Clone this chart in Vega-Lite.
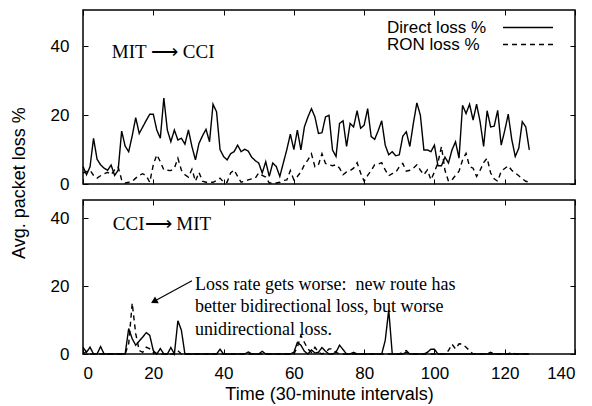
{
"$schema": "https://vega.github.io/schema/vega-lite/v6.json",
"padding": {"left": 9, "top": 8, "right": 0, "bottom": 0},
"bounds": "flush",
"spacing": 16,
"datasets": {
"mit_cci": [
{"t":0,"direct":5.1,"ron":3.2},{"t":1,"direct":2.7,"ron":3.6},{"t":2,"direct":5,"ron":4},{"t":3,"direct":13.3,"ron":2.5},{"t":4,"direct":7.2,"ron":1.7},{"t":5,"direct":5.6,"ron":2.4},{"t":6,"direct":4.6,"ron":3},{"t":7,"direct":4,"ron":3.4},{"t":8,"direct":5.5,"ron":2.7},{"t":9,"direct":2.5,"ron":4.1},
{"t":10,"direct":4,"ron":5},{"t":11,"direct":15.4,"ron":1.2},{"t":12,"direct":11,"ron":0.3},{"t":13,"direct":9.4,"ron":0.5},{"t":14,"direct":14,"ron":0.8},{"t":15,"direct":19.3,"ron":1.7},{"t":16,"direct":14.7,"ron":2.5},{"t":17,"direct":16.6,"ron":3},{"t":18,"direct":18.5,"ron":2.4},{"t":19,"direct":20.3,"ron":0.5},
{"t":20,"direct":20.3,"ron":5.6},{"t":21,"direct":15.7,"ron":8.5},{"t":22,"direct":13.3,"ron":6.5},{"t":23,"direct":25,"ron":4.1},{"t":24,"direct":15.7,"ron":4},{"t":25,"direct":12.3,"ron":3.9},{"t":26,"direct":15.7,"ron":4.6},{"t":27,"direct":12.8,"ron":7.5},{"t":28,"direct":13.3,"ron":4},{"t":29,"direct":11.6,"ron":2.7},
{"t":30,"direct":15.7,"ron":2},{"t":31,"direct":10.9,"ron":4.3},{"t":32,"direct":7,"ron":0.8},{"t":33,"direct":11.8,"ron":3.4},{"t":34,"direct":14,"ron":0.8},{"t":35,"direct":15.9,"ron":0.5},{"t":36,"direct":12.3,"ron":0.5},{"t":37,"direct":23.2,"ron":0.5},{"t":38,"direct":21,"ron":1},{"t":39,"direct":10,"ron":1.7},
{"t":40,"direct":8,"ron":0.5},{"t":41,"direct":7,"ron":0.5},{"t":42,"direct":8.8,"ron":3.2},{"t":43,"direct":9.4,"ron":4.1},{"t":44,"direct":11.3,"ron":2.2},{"t":45,"direct":9.4,"ron":0.5},{"t":46,"direct":10.1,"ron":0.8},{"t":47,"direct":9.6,"ron":1.2},{"t":48,"direct":7.8,"ron":1.5},{"t":49,"direct":6.8,"ron":1.7},
{"t":50,"direct":6.1,"ron":3.2},{"t":51,"direct":3.2,"ron":2.5},{"t":52,"direct":6.5,"ron":2},{"t":53,"direct":2.2,"ron":0.3},{"t":54,"direct":6.1,"ron":0.3},{"t":55,"direct":5.1,"ron":0.3},{"t":56,"direct":2.2,"ron":0.5},{"t":57,"direct":6.1,"ron":1},{"t":58,"direct":10,"ron":1.2},{"t":59,"direct":14.5,"ron":3.9},
{"t":60,"direct":10,"ron":1.2},{"t":61,"direct":15.7,"ron":2.2},{"t":62,"direct":9.9,"ron":3.5},{"t":63,"direct":16.6,"ron":5.6},{"t":64,"direct":19.5,"ron":7},{"t":65,"direct":21.9,"ron":8.8},{"t":66,"direct":19.5,"ron":5},{"t":67,"direct":14.7,"ron":5.6},{"t":68,"direct":14.9,"ron":8.8},{"t":69,"direct":19.5,"ron":6},
{"t":70,"direct":20,"ron":5.6},{"t":71,"direct":9.9,"ron":5.3},{"t":72,"direct":8,"ron":5.6},{"t":73,"direct":17.6,"ron":4.6},{"t":74,"direct":18.4,"ron":2.7},{"t":75,"direct":10.9,"ron":3.5},{"t":76,"direct":17.6,"ron":3.9},{"t":77,"direct":16.6,"ron":4.6},{"t":78,"direct":21.3,"ron":6.2},{"t":79,"direct":16.2,"ron":3.2},
{"t":80,"direct":17.1,"ron":0.8},{"t":81,"direct":21.9,"ron":2.5},{"t":82,"direct":13.8,"ron":3.9},{"t":83,"direct":13,"ron":5.6},{"t":84,"direct":15.5,"ron":5.8},{"t":85,"direct":18.4,"ron":6.2},{"t":86,"direct":11.3,"ron":4.1},{"t":87,"direct":8.5,"ron":2.4},{"t":88,"direct":9.4,"ron":3},{"t":89,"direct":8.2,"ron":3.4},
{"t":90,"direct":8.5,"ron":5},{"t":91,"direct":13.9,"ron":6},{"t":92,"direct":15.2,"ron":3.7},{"t":93,"direct":10.9,"ron":4},{"t":94,"direct":17.6,"ron":4.6},{"t":95,"direct":23.6,"ron":5.6},{"t":96,"direct":20,"ron":4},{"t":97,"direct":9.9,"ron":2.7},{"t":98,"direct":9.9,"ron":4.1},{"t":99,"direct":9.4,"ron":1.2},
{"t":100,"direct":11.3,"ron":3.5},{"t":101,"direct":5.3,"ron":6.2},{"t":102,"direct":5.3,"ron":10.9},{"t":103,"direct":7.8,"ron":4},{"t":104,"direct":6.1,"ron":0.8},{"t":105,"direct":9.9,"ron":1.2},{"t":106,"direct":12.3,"ron":2.5},{"t":107,"direct":7.5,"ron":3.7},{"t":108,"direct":22.9,"ron":7},{"t":109,"direct":20.5,"ron":8.9},
{"t":110,"direct":23.2,"ron":5.1},{"t":111,"direct":18.6,"ron":4.6},{"t":112,"direct":23.2,"ron":2.2},{"t":113,"direct":18.1,"ron":4},{"t":114,"direct":10.9,"ron":6.2},{"t":115,"direct":21.3,"ron":7.5},{"t":116,"direct":16.6,"ron":3.2},{"t":117,"direct":16.8,"ron":1.5},{"t":118,"direct":21.4,"ron":0.8},{"t":119,"direct":11.3,"ron":3.7},
{"t":120,"direct":15.5,"ron":4.5},{"t":121,"direct":20.3,"ron":5.3},{"t":122,"direct":13,"ron":4},{"t":123,"direct":8,"ron":3.2},{"t":124,"direct":10.4,"ron":2.4},{"t":125,"direct":18.1,"ron":1.5},{"t":126,"direct":16.6,"ron":0.8},{"t":127,"direct":9.9,"ron":0.5}
],
"cci_mit": [
{"t":0,"direct":2,"ron":0},{"t":1,"direct":0.5,"ron":0.8},{"t":2,"direct":2,"ron":0},{"t":3,"direct":0,"ron":0},{"t":4,"direct":0,"ron":0},{"t":5,"direct":2.2,"ron":0},{"t":6,"direct":0,"ron":0},{"t":7,"direct":0,"ron":0},{"t":8,"direct":0,"ron":0},{"t":9,"direct":0,"ron":0},
{"t":10,"direct":0,"ron":0},{"t":11,"direct":0,"ron":0},{"t":12,"direct":0,"ron":0},{"t":13,"direct":7.5,"ron":3},{"t":14,"direct":4.5,"ron":15},{"t":15,"direct":2.6,"ron":6},{"t":16,"direct":3.8,"ron":1},{"t":17,"direct":5,"ron":0.5},{"t":18,"direct":6.3,"ron":2},{"t":19,"direct":5.5,"ron":1.5},
{"t":20,"direct":1,"ron":0.5},{"t":21,"direct":0,"ron":0},{"t":22,"direct":1.6,"ron":0},{"t":23,"direct":0,"ron":0},{"t":24,"direct":0,"ron":0},{"t":25,"direct":1.9,"ron":0},{"t":26,"direct":0,"ron":0},{"t":27,"direct":9.8,"ron":1},{"t":28,"direct":7,"ron":0},{"t":29,"direct":0,"ron":0},
{"t":30,"direct":0,"ron":0},{"t":31,"direct":0,"ron":0},{"t":32,"direct":0,"ron":0},{"t":33,"direct":0,"ron":0},{"t":34,"direct":0,"ron":0},{"t":35,"direct":0,"ron":0},{"t":36,"direct":0,"ron":0},{"t":37,"direct":0,"ron":0},{"t":38,"direct":0,"ron":0},{"t":39,"direct":1.4,"ron":0},
{"t":40,"direct":0,"ron":0},{"t":41,"direct":0,"ron":0},{"t":42,"direct":0,"ron":0},{"t":43,"direct":0,"ron":0},{"t":44,"direct":0,"ron":0},{"t":45,"direct":0,"ron":0},{"t":46,"direct":0,"ron":0},{"t":47,"direct":0.6,"ron":0},{"t":48,"direct":0,"ron":0},{"t":49,"direct":0,"ron":0},
{"t":50,"direct":0,"ron":0},{"t":51,"direct":0.8,"ron":0},{"t":52,"direct":0,"ron":0},{"t":53,"direct":0,"ron":0},{"t":54,"direct":0,"ron":0},{"t":55,"direct":0,"ron":0},{"t":56,"direct":0,"ron":0},{"t":57,"direct":0,"ron":0},{"t":58,"direct":0,"ron":0},{"t":59,"direct":0,"ron":0},
{"t":60,"direct":0.5,"ron":0},{"t":61,"direct":3.4,"ron":2},{"t":62,"direct":2.6,"ron":5.5},{"t":63,"direct":0.8,"ron":3.4},{"t":64,"direct":0,"ron":1.5},{"t":65,"direct":1.2,"ron":0.5},{"t":66,"direct":0.3,"ron":2},{"t":67,"direct":0.5,"ron":0.5},{"t":68,"direct":1.9,"ron":0},{"t":69,"direct":0.8,"ron":0.5},
{"t":70,"direct":0,"ron":1.5},{"t":71,"direct":0,"ron":1.5},{"t":72,"direct":0.5,"ron":0.5},{"t":73,"direct":2.6,"ron":0},{"t":74,"direct":1.3,"ron":0},{"t":75,"direct":0,"ron":0},{"t":76,"direct":0,"ron":0},{"t":77,"direct":0.5,"ron":0},{"t":78,"direct":0,"ron":0},{"t":79,"direct":0,"ron":0},
{"t":80,"direct":0,"ron":0},{"t":81,"direct":0,"ron":0},{"t":82,"direct":0,"ron":0},{"t":83,"direct":0,"ron":0},{"t":84,"direct":0,"ron":0},{"t":85,"direct":0,"ron":0},{"t":86,"direct":4,"ron":0},{"t":87,"direct":13,"ron":0},{"t":88,"direct":0,"ron":0},{"t":89,"direct":0,"ron":0},
{"t":90,"direct":0,"ron":0},{"t":91,"direct":0,"ron":0.5},{"t":92,"direct":0.5,"ron":1},{"t":93,"direct":0,"ron":0},{"t":94,"direct":0,"ron":0},{"t":95,"direct":0,"ron":0},{"t":96,"direct":0,"ron":0},{"t":97,"direct":0,"ron":0},{"t":98,"direct":0.5,"ron":0},{"t":99,"direct":1.4,"ron":0},
{"t":100,"direct":1.4,"ron":0},{"t":101,"direct":0,"ron":0},{"t":102,"direct":0,"ron":0},{"t":103,"direct":0,"ron":0},{"t":104,"direct":0,"ron":1},{"t":105,"direct":0,"ron":2.9},{"t":106,"direct":0,"ron":1.5},{"t":107,"direct":0,"ron":3},{"t":108,"direct":0,"ron":2.9},{"t":109,"direct":0,"ron":2},
{"t":110,"direct":0,"ron":1},{"t":111,"direct":0,"ron":0},{"t":112,"direct":0,"ron":0},{"t":113,"direct":0,"ron":0},{"t":114,"direct":0,"ron":0},{"t":115,"direct":0,"ron":0},{"t":116,"direct":0,"ron":0.5},{"t":117,"direct":0,"ron":0},{"t":118,"direct":0,"ron":0},{"t":119,"direct":0,"ron":0},
{"t":120,"direct":0,"ron":0},{"t":121,"direct":0,"ron":0},{"t":122,"direct":0,"ron":0.5},{"t":123,"direct":0,"ron":0},{"t":124,"direct":0,"ron":0},{"t":125,"direct":0,"ron":0},{"t":126,"direct":0,"ron":0},{"t":127,"direct":0,"ron":0}
]
},
"config": {
  "font": "Liberation Sans",
  "view": {"stroke": "black", "strokeWidth": 1.5},
  "axis": {"grid": false, "domain": false, "tickColor": "black", "tickSize": -5, "tickWidth": 1, "labelFont": "Liberation Sans", "labelFontSize": 17, "labelColor": "black", "titleFont": "Liberation Sans", "titleFontSize": 18, "titleColor": "black", "titleFontWeight": "normal"}
},
"resolve": {"legend": {"strokeDash": "independent"}},
"vconcat": [
{
  "width": 492, "height": 174,
  "resolve": {"axis": {"x": "independent", "y": "independent"}},
  "layer": [
    {
      "data": {"name": "mit_cci"},
      "transform": [{"fold": ["direct", "ron"], "as": ["series", "loss"]}],
      "mark": {"type": "line", "color": "black", "strokeWidth": 1.4},
      "encoding": {
        "x": {"field": "t", "type": "quantitative", "scale": {"domain": [0, 140], "nice": false}, "axis": {"orient": "bottom", "values": [0,20,40,60,80,100,120,140], "labels": false, "title": null}},
        "y": {"field": "loss", "type": "quantitative", "scale": {"domain": [0, 50.6], "nice": false}, "axis": {"orient": "left", "values": [0,20,40], "labelPadding": 19, "title": "Avg. packet loss %", "titleX": -63.5, "titleY": 172.5, "titleAngle": -90, "titleAlign": "center", "titleBaseline": "middle"}},
        "strokeDash": {"field": "series", "type": "nominal", "scale": {"domain": ["direct", "ron"], "range": [[1, 0], [5, 4]]},
          "legend": {"title": null, "orient": "none", "legendX": 304, "legendY": 9, "direction": "vertical", "padding": 0,
            "labelExpr": "datum.value == 'direct' ? 'Direct loss %' : 'RON loss %'",
            "symbolType": "M-5,0H5", "symbolSize": 100, "symbolStrokeWidth": 1.4, "symbolStrokeColor": "black",
            "labelOffset": -149.5, "symbolOffset": 132.5, "rowPadding": -6,
            "labelFont": "Liberation Sans", "labelFontSize": 17, "labelColor": "black"}}
      }
    },
    {
      "data": {"values": [{}]},
      "mark": {"type": "text", "text": "MIT ⟶ CCI", "font": "Liberation Serif", "fontSize": 19, "align": "left", "baseline": "middle", "color": "black"},
      "encoding": {
        "x": {"datum": 8.2, "type": "quantitative", "axis": {"orient": "top", "values": [0,20,40,60,80,100,120,140], "labels": false, "title": null}},
        "y": {"datum": 38.5, "type": "quantitative", "axis": {"orient": "right", "values": [0,20,40], "labels": false, "title": null}}
      }
    }
  ]
},
{
  "width": 492, "height": 154,
  "resolve": {"axis": {"x": "independent", "y": "independent"}},
  "layer": [
    {
      "data": {"name": "cci_mit"},
      "transform": [{"fold": ["direct", "ron"], "as": ["series", "loss"]}],
      "mark": {"type": "line", "color": "black", "strokeWidth": 1.4},
      "encoding": {
        "x": {"field": "t", "type": "quantitative", "scale": {"domain": [0, 140], "nice": false}, "axis": {"orient": "bottom", "values": [0,20,40,60,80,100,120,140], "labelPadding": 16, "title": "Time (30-minute intervals)", "titlePadding": 4}},
        "y": {"field": "loss", "type": "quantitative", "scale": {"domain": [0, 45.4], "nice": false}, "axis": {"orient": "left", "values": [0,20,40], "labelPadding": 19, "title": null}},
        "strokeDash": {"field": "series", "type": "nominal", "scale": {"domain": ["direct", "ron"], "range": [[1, 0], [5, 4]]}, "legend": null}
      }
    },
    {
      "data": {"values": [{}]},
      "mark": {"type": "text", "text": "CCI⟶ MIT", "font": "Liberation Serif", "fontSize": 19, "align": "left", "baseline": "middle", "color": "black"},
      "encoding": {
        "x": {"datum": 8.5, "type": "quantitative", "axis": {"orient": "top", "values": [0,20,40,60,80,100,120,140], "labels": false, "title": null}},
        "y": {"datum": 38.4, "type": "quantitative", "axis": {"orient": "right", "values": [0,20,40], "labels": false, "title": null}}
      }
    },
    {
      "data": {"values": [{}]},
      "mark": {"type": "text", "text": ["Loss rate gets worse:\u00a0 new route has", "better bidirectional loss, but worse", "unidirectional loss."], "font": "Liberation Serif", "fontSize": 18, "lineHeight": 22.5, "align": "left", "baseline": "middle", "color": "black"},
      "encoding": {
        "x": {"datum": 31.9, "type": "quantitative", "axis": null},
        "y": {"datum": 20.4, "type": "quantitative", "axis": null}
      }
    },
    {
      "data": {"values": [{}]},
      "mark": {"type": "rule", "color": "black", "strokeWidth": 1.2},
      "encoding": {
        "x": {"datum": 31.0, "type": "quantitative", "axis": null},
        "y": {"datum": 21.6, "type": "quantitative", "axis": null},
        "x2": {"datum": 20.0},
        "y2": {"datum": 15.4}
      }
    },
    {
      "data": {"values": [{}]},
      "mark": {"type": "point", "shape": "triangle-up", "angle": 241, "size": 60, "filled": true, "color": "black", "opacity": 1},
      "encoding": {
        "x": {"datum": 20.2, "type": "quantitative", "axis": null},
        "y": {"datum": 15.5, "type": "quantitative", "axis": null}
      }
    }
  ]
}
]
}
